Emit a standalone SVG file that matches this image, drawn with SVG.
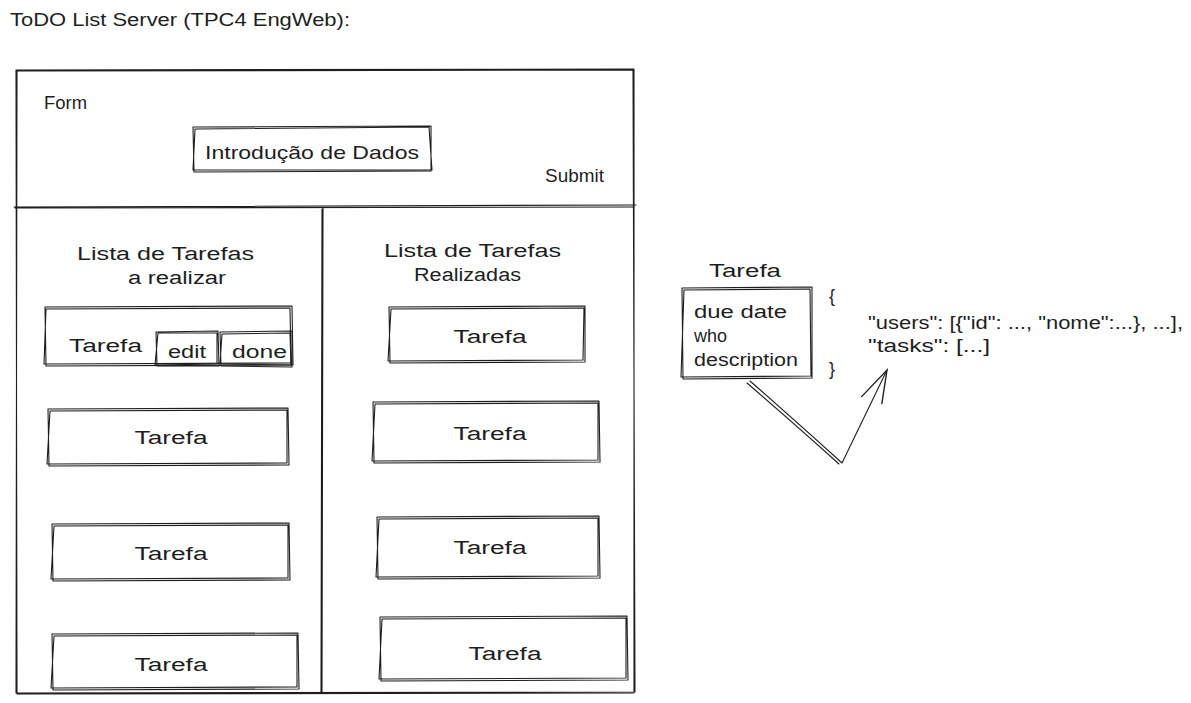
<svg xmlns="http://www.w3.org/2000/svg" width="1191" height="703" viewBox="0 0 1191 703">
<style>
.s{fill:none;stroke:#1e1e1e;stroke-width:1.1;stroke-linecap:round;stroke-linejoin:round}
.t{font-family:"Liberation Sans",Arial,sans-serif;font-size:17px;fill:#1e1e1e}
.m{text-anchor:middle}
</style>
<defs>
<marker id="ah" markerUnits="userSpaceOnUse" markerWidth="40" markerHeight="40" refX="0" refY="0" viewBox="-30 -15 32 30" orient="auto">
<path d="M-28,-9 L0,0 L-26,8" fill="none" stroke="#1e1e1e" stroke-width="1.1" stroke-linecap="round"/>
</marker>
</defs>
<rect width="1191" height="703" fill="#ffffff"/>
<text class="t" x="10" y="26" textLength="340" lengthAdjust="spacingAndGlyphs" style="font-size:18px">ToDO List Server (TPC4 EngWeb):</text>

<g id="frame">
<path class="s" d="M16 70 L634 69 L634 693 L17 694 Z M17 71 L633 70 L635 692 L16 693 Z"/>
<path class="s" d="M14 207 L636 205 M15 208 L634 207"/>
<path class="s" d="M322 209 L321 693 M323 208 L322 692"/>
</g>

<g id="form">
<text class="t" x="44" y="109" textLength="43" lengthAdjust="spacingAndGlyphs" style="font-size:18px">Form</text>
<text class="t" x="545" y="182" textLength="59" lengthAdjust="spacingAndGlyphs" style="font-size:18px">Submit</text>
</g>

<g id="input">
<path class="s" d="M193 127 L431 126 L431 171 L194 172 Z M195 129 L429 127 L432 170 L193 170 Z"/>
<text class="t" x="205" y="159" textLength="214" lengthAdjust="spacingAndGlyphs" style="font-size:19px">Introdução de Dados</text>
</g>

<g id="todo-title">
<text class="t" x="77" y="260" textLength="177" lengthAdjust="spacingAndGlyphs" style="font-size:18px">Lista de Tarefas</text>
<text class="t" x="128" y="284" textLength="98" lengthAdjust="spacingAndGlyphs" style="font-size:18px">a realizar</text>
</g>

<g id="done-title">
<text class="t" x="384" y="257" textLength="177" lengthAdjust="spacingAndGlyphs" style="font-size:18px">Lista de Tarefas</text>
<text class="t" x="414" y="281" textLength="107" lengthAdjust="spacingAndGlyphs" style="font-size:18px">Realizadas</text>
</g>

<g id="todo-1">
<path class="s" d="M45 307 L292 306 L293 365 L46 366 Z M46 309 L290 308 L291 363 L44 364 Z"/>
<text class="t" x="69" y="352" textLength="73" lengthAdjust="spacingAndGlyphs" style="font-size:18px">Tarefa</text>
<path class="s" d="M156 332 L218 331 L219 366 L157 366 Z M158 333 L217 333 L217 364 L155 365 Z"/>
<text class="t" x="168" y="358" textLength="38" lengthAdjust="spacingAndGlyphs" style="font-size:18px">edit</text>
<path class="s" d="M220 332 L292 331 L292 367 L221 366 Z M222 334 L290 333 L291 365 L220 364 Z"/>
<text class="t" x="232" y="358" textLength="55" lengthAdjust="spacingAndGlyphs" style="font-size:18px">done</text>
</g>

<g id="todo-2">
<path class="s" d="M48 409 L288 408 L289 465 L49 466 Z M50 411 L287 410 L287 463 L47 464 Z"/>
<text class="t m" x="171" y="444" textLength="73" lengthAdjust="spacingAndGlyphs" style="font-size:18px">Tarefa</text>
</g>
<g id="todo-3">
<path class="s" d="M52 524 L289 523 L290 580 L53 581 Z M54 526 L288 525 L288 578 L51 579 Z"/>
<text class="t m" x="171" y="560" textLength="73" lengthAdjust="spacingAndGlyphs" style="font-size:18px">Tarefa</text>
</g>
<g id="todo-4">
<path class="s" d="M52 634 L298 633 L299 689 L53 690 Z M54 636 L297 635 L297 687 L51 688 Z"/>
<text class="t m" x="171" y="671" textLength="73" lengthAdjust="spacingAndGlyphs" style="font-size:18px">Tarefa</text>
</g>

<g id="done-1">
<path class="s" d="M389 307 L585 306 L585 362 L390 363 Z M391 309 L584 308 L583 360 L388 361 Z"/>
<text class="t m" x="490" y="343" textLength="73" lengthAdjust="spacingAndGlyphs" style="font-size:18px">Tarefa</text>
</g>
<g id="done-2">
<path class="s" d="M373 402 L599 401 L600 462 L374 463 Z M375 404 L598 403 L598 460 L372 461 Z"/>
<text class="t m" x="490" y="440" textLength="73" lengthAdjust="spacingAndGlyphs" style="font-size:18px">Tarefa</text>
</g>
<g id="done-3">
<path class="s" d="M377 517 L599 516 L600 578 L378 579 Z M379 519 L598 518 L598 576 L376 577 Z"/>
<text class="t m" x="490" y="554" textLength="73" lengthAdjust="spacingAndGlyphs" style="font-size:18px">Tarefa</text>
</g>
<g id="done-4">
<path class="s" d="M380 617 L627 616 L628 680 L381 681 Z M382 619 L626 618 L626 678 L379 679 Z"/>
<text class="t m" x="505" y="660" textLength="73" lengthAdjust="spacingAndGlyphs" style="font-size:18px">Tarefa</text>
</g>

<g id="tarefa-model">
<text class="t m" x="745" y="277" textLength="72" lengthAdjust="spacingAndGlyphs" style="font-size:18px">Tarefa</text>
<path class="s" d="M682 288 L812 287 L812 378 L683 379 Z M684 290 L810 289 L811 376 L681 377 Z"/>
<text class="t" x="694" y="318" textLength="93" lengthAdjust="spacingAndGlyphs" style="font-size:18px">due date</text>
<text class="t" x="694" y="342" style="font-size:18px">who</text>
<text class="t" x="694" y="366" textLength="104" lengthAdjust="spacingAndGlyphs" style="font-size:18px">description</text>
</g>

<g id="json">
<text class="t" x="829" y="302" style="font-size:18px">{</text>
<text class="t" x="829" y="375" style="font-size:18px">}</text>
<text class="t" x="868" y="329" textLength="315" lengthAdjust="spacingAndGlyphs" style="font-size:18px">"users": [{"id": ..., "nome":...}, ...],</text>
<text class="t" x="868" y="352" textLength="122" lengthAdjust="spacingAndGlyphs" style="font-size:18px">"tasks": [...]</text>
</g>

<g id="connectors">
<path class="s" d="M750 381 Q800 425 842 463 L887 370" marker-end="url(#ah)"/>
<path class="s" d="M747 383 Q797 426 839 464"/>
</g>
</svg>
